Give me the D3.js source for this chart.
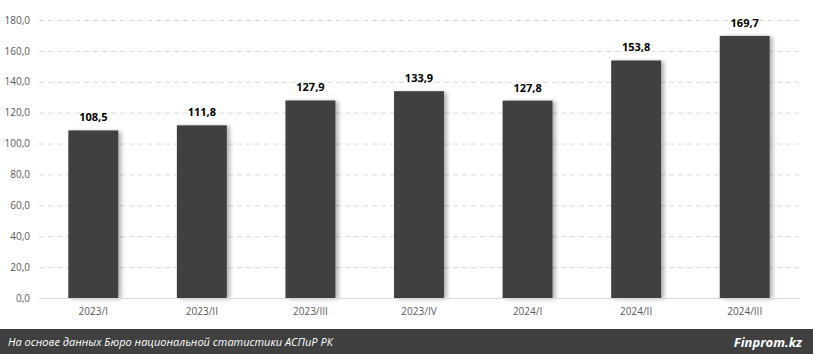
<!DOCTYPE html>
<html><head><meta charset="utf-8">
<script src="https://cdn.jsdelivr.net/npm/d3@7"></script>
<style>body{margin:0;background:#fff;}svg{display:block;font-family:"Open Sans","Liberation Sans",sans-serif;}</style>
</head><body><svg id="c" width="813" height="354"></svg>
<script>
const categories = ["2023/I","2023/II","2023/III","2023/IV","2024/I","2024/II","2024/III"];
const values = [108.5,111.8,127.9,133.9,127.8,153.8,169.7];
const yTicks = [0,20,40,60,80,100,120,140,160,180];
const sourceText = "На основе данных Бюро национальной статистики АСПиР РК";
const brandText = "Finprom.kz";

const svg = d3.select("#c");
const fmt = v => v.toFixed(1).replace(".", ",");
const x = d3.scaleBand().domain(categories).range([39, 799]).paddingInner(0.54).paddingOuter(0.27);
const y = d3.scaleLinear().domain([0,180]).range([298, 20]);

const defs = svg.append("defs");
const f = defs.append("filter").attr("id","sh").attr("x","-10%").attr("y","-5%").attr("width","130%").attr("height","110%");
f.append("feDropShadow").attr("dx",3).attr("dy",1).attr("stdDeviation",2).attr("flood-color","#000").attr("flood-opacity",0.3);

// grid
svg.append("g").selectAll("line").data(yTicks.filter(d=>d>0)).join("line")
  .attr("x1",39).attr("x2",799).attr("y1",d=>y(d)+0.5).attr("y2",d=>y(d)+0.5)
  .attr("stroke","#d9d9d9").attr("stroke-dasharray","5,4");
// y axis labels
const ya = svg.append("g").attr("transform","translate(30,0)")
  .call(d3.axisLeft(y).tickValues(yTicks).tickFormat(fmt).tickSize(0).tickPadding(0));
ya.select(".domain").remove();
ya.selectAll("text").attr("fill","#595959").style("font-size","10px").style("font-family","'Open Sans','Liberation Sans',sans-serif");

// bars
svg.append("g").selectAll("rect").data(values).join("rect")
  .attr("x",(d,i)=>x(categories[i])).attr("width",x.bandwidth())
  .attr("y",d=>y(d)).attr("height",d=>y(0)-y(d))
  .attr("fill","#404040").attr("filter","url(#sh)");

// baseline
svg.append("line").attr("x1",39).attr("x2",799).attr("y1",y(0)+0.5).attr("y2",y(0)+0.5).attr("stroke","#d9d9d9");

// x axis
const xa = svg.append("g").attr("transform",`translate(0,${y(0)})`)
  .call(d3.axisBottom(x).tickSize(0).tickPadding(10));
xa.select(".domain").remove();
xa.selectAll("text").attr("fill","#595959").style("font-size","10px").style("font-family","'Open Sans','Liberation Sans',sans-serif");

// value labels
svg.append("g").selectAll("text").data(values).join("text")
  .attr("x",(d,i)=>x(categories[i])+x.bandwidth()/2).attr("y",d=>y(d)-9)
  .attr("text-anchor","middle").attr("font-size","11px").attr("font-weight","bold").attr("fill","#000")
  .text(fmt);

// footer
svg.append("rect").attr("x",0).attr("y",329).attr("width",813).attr("height",25).attr("fill","#404040");
svg.append("text").attr("x",8).attr("y",346).attr("fill","#fff").attr("font-size","11px").attr("font-style","italic").text(sourceText);
svg.append("text").attr("x",802).attr("y",347).attr("text-anchor","end").attr("fill","#fff").attr("font-size","13px").attr("font-style","italic").attr("font-weight","bold").text(brandText);
</script></body></html>
